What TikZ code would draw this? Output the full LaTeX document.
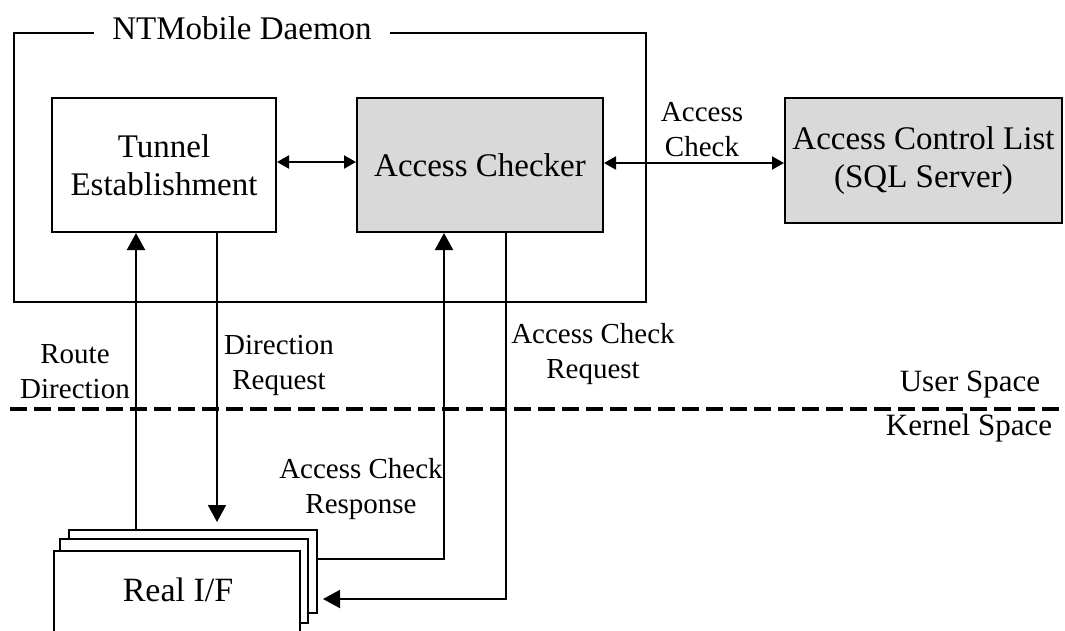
\documentclass[tikz,border=0pt]{standalone}
\usepackage{fontspec}
\setmainfont{Liberation Serif}
\usetikzlibrary{arrows.meta}

\tikzset{
  big/.style={font=\fontsize{33}{38}\selectfont, align=center},
  small/.style={font=\fontsize{29}{35}\selectfont, align=center},
  block/.style={draw, line width=2pt, inner sep=0pt},
  shaded/.style={block, fill=black!15},
  arr/.style={line width=2pt, -{Triangle[length=17pt,width=18pt]}},
  twoway/.style={line width=2pt, {Triangle[length=12pt,width=13pt]}-{Triangle[length=12pt,width=13pt]}},
  ifcard/.style={draw, line width=2pt, fill=white, minimum width=248pt, inner sep=0pt},
}

\begin{document}
\begin{tikzpicture}[x=1pt, y=-1pt]
\clip (0,0) rectangle (1065,630);
\fill[white] (0,0) rectangle (1065,630);

% daemon frame and its title
\node[block, minimum width=632pt, minimum height=269pt] (daemon) at (330,167.5) {};
\node[big, fill=white, inner xsep=18pt, inner ysep=2pt] (title) at (242,28) {NTMobile Daemon};

% components
\node[block, minimum width=224pt, minimum height=134pt, big] (tunnel) at (164,165) {Tunnel\\Establishment};
\node[shaded, minimum width=246pt, minimum height=134pt, big] (checker) at (480,165) {Access Checker};
\node[shaded, minimum width=277pt, minimum height=125pt, big] (acl) at (923.5,160.5) {Access Control List\\(SQL Server)};

% user / kernel boundary
\coordinate (bl) at (10,409);
\coordinate (br) at (1065,409);
\draw[line width=4pt, dash pattern=on 17pt off 7pt] (bl) -- (br);
\node[font=\fontsize{31}{36}\selectfont] (user) at (970,385) {User Space};
\node[font=\fontsize{31}{36}\selectfont] (kernel) at (969,428) {Kernel Space};

% stacked interface cards
\node[ifcard, minimum height=83pt] (ifback) at (193,571.5) {};
\node[ifcard, minimum height=84pt] (ifmid) at (184,581) {};
\node[ifcard, minimum width=246pt, minimum height=120pt] (iffront) at (177,611) {};
\node[font=\fontsize{34}{40}\selectfont] (iflabel) at (178,590) {Real I/F};

% connector routing points
\coordinate (rd) at (136,0);
\coordinate (dr) at (217,0);
\coordinate (resp) at (444,559);
\coordinate (req) at (506,599);
\coordinate (tc) at (0,162);
\coordinate (ca) at (0,163);

\draw[twoway] (tunnel.east |- tc) -- (checker.west |- tc);
\draw[twoway] (checker.east |- ca) -- (acl.west |- ca);

\draw[arr] (rd |- ifback.north) -- (rd |- tunnel.south);
\draw[arr] (dr |- tunnel.south) -- ([yshift=7pt]dr |- ifback.north);
\draw[arr] (ifback.east |- resp) -- (resp) -- (resp |- checker.south);
\draw[arr] (req |- checker.south) -- (req) -- ([xshift=5pt]ifback.east |- req);

% connector labels
\node[small] (lacc) at (702,130) {Access\\Check};
\node[small] (lroute) at (75,372) {Route\\Direction};
\node[small] (ldir) at (279,365) {Direction\\Request};
\node[small] (lreq) at (593,354) {Access Check\\Request};
\node[small] (lresp) at (361,489) {Access Check\\Response};
\end{tikzpicture}
\end{document}
